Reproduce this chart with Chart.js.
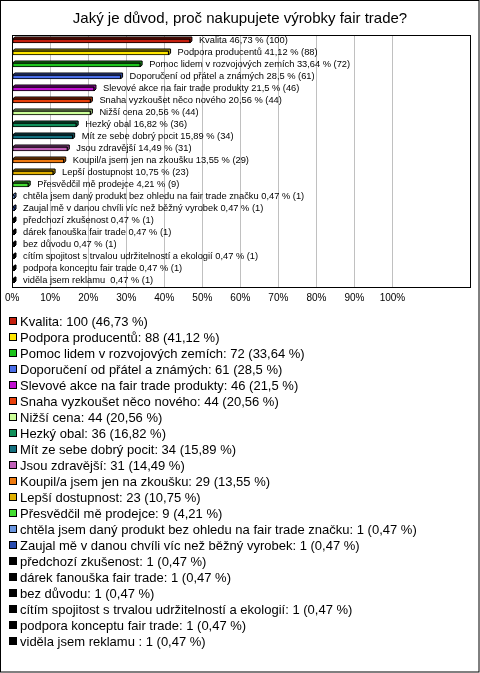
<!DOCTYPE html>
<html>
<head>
<meta charset="utf-8">
<title>fair trade</title>
<script src="https://cdn.jsdelivr.net/npm/chart.js@4.4.1/dist/chart.umd.min.js"></script>
<style>
  html, body { margin: 0; padding: 0; background: #fff; }
  canvas { display: block; }
</style>
</head>
<body>
<canvas id="chart" width="480" height="673"></canvas>
<script>
const categories = [
  'Kvalita',
  'Podpora producentů',
  'Pomoc lidem v rozvojových zemích',
  'Doporučení od přátel a známých',
  'Slevové akce na fair trade produkty',
  'Snaha vyzkoušet něco nového',
  'Nižší cena',
  'Hezký obal',
  'Mít ze sebe dobrý pocit',
  'Jsou zdravější',
  'Koupil/a jsem jen na zkoušku',
  'Lepší dostupnost',
  'Přesvědčil mě prodejce',
  'chtěla jsem daný produkt bez ohledu na fair trade značku',
  'Zaujal mě v danou chvíli víc než běžný vyrobek',
  'předchozí zkušenost',
  'dárek fanouška fair trade',
  'bez důvodu',
  'cítím spojitost s trvalou udržitelností a ekologií',
  'podpora konceptu fair trade',
  'viděla jsem reklamu ',
]
const counts = [100, 88, 72, 61, 46, 44, 44, 36, 34, 31, 29, 23, 9, 1, 1, 1, 1, 1, 1, 1, 1]
const percents = [46.73, 41.12, 33.64, 28.5, 21.5, 20.56, 20.56, 16.82, 15.89, 14.49, 13.55, 10.75, 4.21,
  0.47, 0.47, 0.47, 0.47, 0.47, 0.47, 0.47, 0.47]
const colors = [
  '#c4200f', '#ffe600', '#1cc41c', '#4a6ee8', '#c010d0', '#e8400c', '#ccff99',
  '#11905a', '#14707f', '#c060b8', '#ee7a10', '#e0b000', '#44dd33', '#6a96e0',
  '#2a4db0', '#000000', '#000000', '#000000', '#000000', '#000000', '#000000',
]
const xTicks = [0, 10, 20, 30, 40, 50, 60, 70, 80, 90, 100]

const FONT = '"Liberation Sans", Arial, sans-serif'
const fmt = v => String(v).replace('.', ',')

function shade(hex, f) {
  const n = parseInt(hex.slice(1), 16)
  const r = Math.round(((n >> 16) & 255) * f)
  const g = Math.round(((n >> 8) & 255) * f)
  const b = Math.round((n & 255) * f)
  return `rgb(${r},${g},${b})`
}

// page background, outer frame, plot frame
const framePlugin = {
  id: 'frame',
  beforeDraw(chart) {
    const ctx = chart.ctx
    ctx.save()
    ctx.fillStyle = '#fff'
    ctx.fillRect(0, 0, chart.width, chart.height)
    ctx.restore()
  },
  afterDraw(chart) {
    const ctx = chart.ctx
    const a = chart.chartArea
    ctx.save()
    ctx.strokeStyle = '#000'
    ctx.lineWidth = 1
    ctx.strokeRect(Math.round(a.left) + 0.5, Math.round(a.top) + 0.5,
      Math.round(a.right - a.left), Math.round(a.bottom - a.top))
    ctx.strokeRect(0.5, 0.5, chart.width - 1.5, chart.height - 1.5)
    ctx.restore()
  },
}

// fake 3D depth behind every bar + value labels
const DEPTH = 2
const depthPlugin = {
  id: 'depth',
  beforeDatasetsDraw(chart) {
    const ctx = chart.ctx
    const meta = chart.getDatasetMeta(0)
    ctx.save()
    ctx.lineWidth = 1
    ctx.strokeStyle = '#000'
    meta.data.forEach((el, i) => {
      const p = el.getProps(['x', 'y', 'base', 'height'], true)
      const top = p.y - p.height / 2
      const bottom = p.y + p.height / 2
      ctx.fillStyle = shade(colors[i], 0.7)
      ctx.beginPath()
      ctx.moveTo(p.base, top)
      ctx.lineTo(p.base + DEPTH, top - DEPTH)
      ctx.lineTo(p.x + DEPTH, top - DEPTH)
      ctx.lineTo(p.x + DEPTH, bottom - DEPTH)
      ctx.lineTo(p.x, bottom)
      ctx.lineTo(p.x, top)
      ctx.closePath()
      ctx.fill()
      ctx.stroke()
    })
    ctx.restore()
  },
  afterDatasetsDraw(chart) {
    const ctx = chart.ctx
    const meta = chart.getDatasetMeta(0)
    ctx.save()
    ctx.fillStyle = '#000'
    ctx.font = `9.3px ${FONT}`
    ctx.textBaseline = 'middle'
    ctx.textAlign = 'left'
    meta.data.forEach((el, i) => {
      const p = el.getProps(['x', 'y'], true)
      const txt = `${categories[i]} ${fmt(percents[i])} % (${counts[i]})`
      ctx.fillText(txt, p.x + DEPTH + 7, p.y - 1)
    })
    ctx.restore()
  },
}

// one-column legend under the plot
const listLegend = {
  id: 'listLegend',
  afterDraw(chart) {
    const ctx = chart.ctx
    const y0 = 321
    const dy = 16
    ctx.save()
    ctx.font = `13px ${FONT}`
    ctx.textBaseline = 'middle'
    ctx.textAlign = 'left'
    categories.forEach((c, i) => {
      const y = Math.round(y0 + i * dy)
      ctx.fillStyle = colors[i]
      ctx.fillRect(9, y - 4, 8, 8)
      ctx.strokeStyle = '#000'
      ctx.lineWidth = 1
      ctx.strokeRect(9.5, y - 3.5, 7, 7)
      ctx.fillStyle = '#000'
      ctx.fillText(`${c}: ${counts[i]} (${fmt(percents[i])} %)`, 20, y + 1)
    })
    ctx.restore()
  },
}

new Chart(document.getElementById('chart'), {
  type: 'bar',
  data: {
    labels: categories,
    datasets: [{
      data: percents,
      backgroundColor: colors,
      borderColor: '#000',
      borderWidth: 1,
      borderSkipped: false,
      barThickness: 4,
    }],
  },
  options: {
    indexAxis: 'y',
    responsive: false,
    animation: false,
    devicePixelRatio: 1,
    layout: { padding: { left: 10, right: 10, top: 0, bottom: 366 } },
    plugins: {
      legend: { display: false },
      tooltip: { enabled: false },
      title: {
        display: true,
        text: 'Jaký je důvod, proč nakupujete výrobky fair trade?',
        color: '#000',
        font: { family: FONT, size: 15, weight: 'normal', lineHeight: 1.2 },
        padding: { top: 10, bottom: 7 },
      },
    },
    scales: {
      x: {
        min: 0,
        max: 120.4,
        afterBuildTicks(scale) {
          scale.ticks = xTicks.map(v => ({ value: v }))
        },
        afterFit(scale) { scale.height = 20 },
        grid: { color: '#c0c0c0', drawTicks: false },
        border: { display: false },
        ticks: {
          color: '#000',
          padding: 5,
          maxRotation: 0,
          font: { family: FONT, size: 10 },
          callback: v => v + '%',
        },
      },
      y: {
        display: false,
        grid: { display: false },
      },
    },
  },
  plugins: [framePlugin, depthPlugin, listLegend],
})
</script>
</body>
</html>
